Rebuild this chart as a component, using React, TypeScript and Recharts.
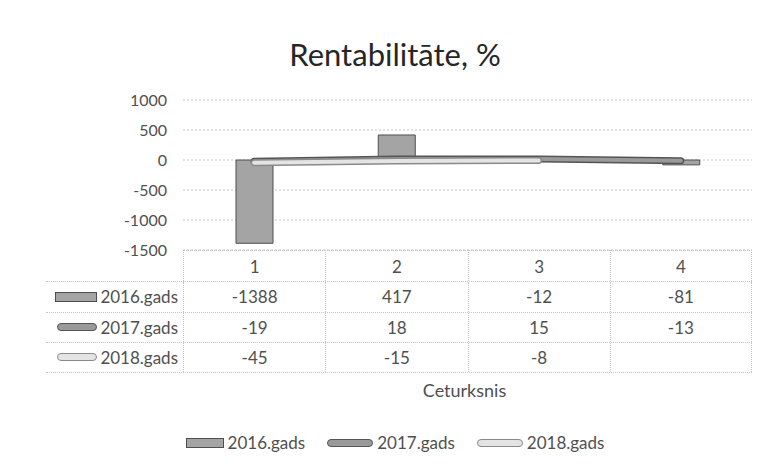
import React from 'react'
import {
  ComposedChart,
  Bar,
  Line,
  XAxis,
  YAxis,
  CartesianGrid,
} from 'recharts'

const quarters = ['1', '2', '3', '4']
const values2016 = [-1388, 417, -12, -81]
const values2017 = [-19, 18, 15, -13]
const values2018: (number | null)[] = [-45, -15, -8, null]
const yTicks = [-1500, -1000, -500, 0, 500, 1000]

const seriesRows = [
  { name: '2016.gads', kind: 'bar', values: values2016 },
  { name: '2017.gads', kind: 'tube2017', values: values2017 },
  { name: '2018.gads', kind: 'tube2018', values: values2018 },
]

const chartData = quarters.map((q, i) => ({
  quarter: q,
  y2016: values2016[i],
  y2017: values2017[i],
  y2018: values2018[i],
}))

const colors = {
  bar: '#a4a4a4',
  barEdge: '#4f4f4f',
  tube17: '#9a9a9a',
  tube17Edge: '#555555',
  tube18: '#e4e4e4',
  tube18Edge: '#8a8a8a',
  grid: '#c4c4c4',
  text: '#505050',
}

const FONT = 'Lato, "Open Sans", sans-serif'

// plot box (px)
const PLOT_LEFT = 183
const PLOT_RIGHT = 752
const PLOT_TOP = 100
const PLOT_BOTTOM = 250
const TABLE_LEFT = 46
const HEADER_H = 31
const ROW_H = 30.5

function Key({ kind, width = 40 }: { kind: string; width?: number }) {
  if (kind === 'bar') {
    return (
      <svg width={width} height={10} style={{ display: 'block' }}>
        <rect x={0.5} y={0.5} width={width - 1} height={9} fill={colors.bar} stroke={colors.barEdge} />
      </svg>
    )
  }
  const fill = kind === 'tube2017' ? colors.tube17 : colors.tube18
  const edge = kind === 'tube2017' ? colors.tube17Edge : colors.tube18Edge
  return (
    <svg width={width} height={8} style={{ display: 'block' }}>
      <rect x={0.5} y={0.5} width={width - 1} height={7} rx={3.5} fill={fill} stroke={edge} />
    </svg>
  )
}

function DataTable() {
  const colW = (PLOT_RIGHT - PLOT_LEFT) / quarters.length
  const border = `1px dotted ${colors.grid}`
  return (
    <div style={{ position: 'absolute', left: 0, top: PLOT_BOTTOM, width: 762, fontFamily: FONT, color: colors.text }}>
      {/* header row */}
      <div style={{ position: 'absolute', left: PLOT_LEFT, top: 0, height: HEADER_H, display: 'flex' }}>
        {quarters.map((q, i) => (
          <div
            key={q}
            style={{
              width: colW,
              height: HEADER_H,
              boxSizing: 'border-box',
              borderLeft: border,
              borderRight: i === quarters.length - 1 ? border : 'none',
              borderTop: border,
              display: 'flex',
              alignItems: 'center',
              justifyContent: 'center',
              fontSize: 17,
            }}
          >
            {q}
          </div>
        ))}
      </div>
      {seriesRows.map((row, r) => (
        <div
          key={row.name}
          style={{
            position: 'absolute',
            left: TABLE_LEFT,
            top: HEADER_H + r * ROW_H,
            height: ROW_H,
            display: 'flex',
            borderTop: border,
            borderBottom: r === seriesRows.length - 1 ? border : 'none',
            boxSizing: 'border-box',
          }}
        >
          <div
            style={{
              width: PLOT_LEFT - TABLE_LEFT,
              display: 'flex',
              alignItems: 'center',
              justifyContent: 'flex-end',
              paddingRight: 5,
              boxSizing: 'border-box',
              fontSize: 17,
              gap: 3,
            }}
          >
            <Key kind={row.kind} width={row.kind === 'bar' ? 42 : 40} />
            <span>{row.name}</span>
          </div>
          {quarters.map((q, i) => (
            <div
              key={q}
              style={{
                width: colW,
                boxSizing: 'border-box',
                borderLeft: border,
                borderRight: i === quarters.length - 1 ? border : 'none',
                display: 'flex',
                alignItems: 'center',
                justifyContent: 'center',
                fontSize: 17,
              }}
            >
              {row.values[i] === null ? '' : row.values[i]}
            </div>
          ))}
        </div>
      ))}
    </div>
  )
}

export default function App() {
  return (
    <div style={{ position: 'absolute', left: 0, top: 0, width: 762, height: 469, background: '#fff', fontFamily: FONT }}>
      <div
        style={{
          position: 'absolute',
          left: 0,
          width: 790,
          top: 35,
          textAlign: 'center',
          fontSize: 31,
          color: '#262626',
        }}
      >
        Rentabilitāte, %
      </div>

      <div style={{ position: 'absolute', left: 0, top: 0 }}>
        <ComposedChart
          width={762}
          height={469}
          data={chartData}
          margin={{ top: PLOT_TOP, right: 762 - PLOT_RIGHT, bottom: 469 - PLOT_BOTTOM, left: PLOT_LEFT - 60 }}
        >
          <CartesianGrid vertical={false} stroke={colors.grid} strokeDasharray="2 2" />
          <XAxis dataKey="quarter" hide />
          <YAxis
            width={60}
            domain={[-1500, 1000]}
            ticks={yTicks}
            interval={0}
            tickLine={false}
            axisLine={false}
            tickMargin={10}
            tick={{ fontSize: 16, fill: colors.text, fontFamily: FONT }}
          />
          <Bar dataKey="y2016" barSize={37} fill={colors.bar} stroke={colors.barEdge} isAnimationActive={false} />
          <Line dataKey="y2017" type="linear" stroke={colors.tube17Edge} strokeWidth={7} strokeLinecap="round" dot={false} activeDot={false} isAnimationActive={false} />
          <Line dataKey="y2017" type="linear" stroke={colors.tube17} strokeWidth={4} strokeLinecap="round" dot={false} activeDot={false} isAnimationActive={false} />
          <Line dataKey="y2018" type="linear" stroke={colors.tube18Edge} strokeWidth={7} strokeLinecap="round" dot={false} activeDot={false} isAnimationActive={false} />
          <Line dataKey="y2018" type="linear" stroke={colors.tube18} strokeWidth={4} strokeLinecap="round" dot={false} activeDot={false} isAnimationActive={false} />
        </ComposedChart>
      </div>

      <DataTable />

      <div
        style={{
          position: 'absolute',
          left: 0,
          width: PLOT_LEFT + PLOT_RIGHT - 6,
          top: 379,
          textAlign: 'center',
          fontSize: 18,
          color: colors.text,
        }}
      >
        Ceturksnis
      </div>

      <div
        style={{
          position: 'absolute',
          left: 0,
          width: 790,
          top: 432,
          display: 'flex',
          justifyContent: 'center',
          alignItems: 'center',
          gap: 22,
          fontSize: 17,
          color: colors.text,
        }}
      >
        {seriesRows.map((row) => (
          <div key={row.name} style={{ display: 'flex', alignItems: 'center', gap: 4 }}>
            <Key kind={row.kind} width={row.kind === 'bar' ? 38 : 46} />
            <span>{row.name}</span>
          </div>
        ))}
      </div>
    </div>
  )
}
